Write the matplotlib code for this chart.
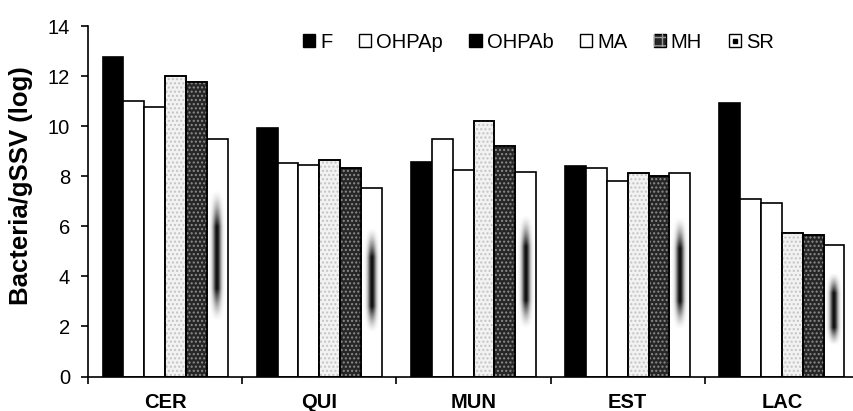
import numpy as np
import matplotlib
matplotlib.use("Agg")
import matplotlib.pyplot as plt
from matplotlib.patches import Patch
from matplotlib.lines import Line2D

# dati
categories = ['CER', 'QUI', 'MUN', 'EST', 'LAC']
series_names = ['F', 'OHPAp', 'OHPAb', 'MA', 'MH', 'SR']
F = [12.76, 9.94, 8.55, 8.42, 10.91]
OHPAp = [11.0, 8.54, 9.47, 8.34, 7.1]
OHPAb = [10.75, 8.45, 8.25, 7.81, 6.94]
MA = [12.0, 8.63, 10.19, 8.11, 5.75]
MH = [11.76, 8.33, 9.22, 8.0, 5.64]
SR = [9.47, 7.53, 8.17, 8.11, 5.26]
y_ticks = [0, 2, 4, 6, 8, 10, 12, 14]

plt.rcParams['font.family'] = ['Liberation Sans', 'DejaVu Sans']
plt.rcParams['hatch.linewidth'] = 1.0

fig = plt.figure(figsize=(8.54, 4.11), dpi=100)
ax = fig.add_axes([88 / 854, 34.5 / 411, 771 / 854, 350.5 / 411])

x = np.arange(len(categories))
w = 0.135

# stile delle barre: (colore, tratteggio, colore tratteggio)
styles = [
    ('black', None, None),
    ('white', None, None),
    ('white', None, None),
    ('#f2f2f2', '....', '#c4c4c4'),
    ('#262626', '....', '#8c8c8c'),
    ('white', None, None),
]
series = [F, OHPAp, OHPAb, MA, MH, SR]

for i, (vals, (fc, hatch, hc)) in enumerate(zip(series, styles)):
    pos = x + (i - 2.5) * w
    ax.bar(pos, vals, width=w, color=fc, edgecolor='black', linewidth=1.2, zorder=2)
    if hatch:
        ax.bar(pos, vals, width=w, color='none', edgecolor=hc, hatch=hatch,
               linewidth=0, zorder=2.5)
        ax.bar(pos, vals, width=w, color='none', edgecolor='black',
               linewidth=1.2, zorder=2.6)

# macchia scura sfumata dentro le barre SR
hx = np.linspace(-1, 1, 60)
hy = np.linspace(0, 1, 200)
prof_x = np.exp(-(hx / 0.45) ** 2)
ramp = np.clip(np.minimum(hy / 0.25, (1 - hy) / 0.28), 0, 1)
prof_y = ramp ** 1.5
alpha = np.outer(prof_y, prof_x) * 0.95
img = np.zeros((len(hy), len(hx), 4))
img[..., 3] = alpha
sr_pos = x + 2.5 * w
for px, h in zip(sr_pos, SR):
    ax.imshow(img, extent=[px - w * 0.42, px + w * 0.42, 0.23 * h, 0.79 * h],
              aspect='auto', origin='lower', zorder=3, interpolation='bilinear')

ax.set_xlim(-0.5, len(categories) - 0.5)
ax.set_ylim(0, 14)
ax.set_yticks(y_ticks)
ax.set_yticklabels([str(t) for t in y_ticks], fontsize=14.5)
ax.set_xticks(x)
ax.set_xticklabels(categories, fontsize=14.5, fontweight='bold')
ax.set_xticks(np.arange(len(categories) + 1) - 0.5, minor=True)
ax.tick_params(axis='x', which='major', length=0, pad=12)
ax.tick_params(axis='x', which='minor', length=5, width=1.2, direction='out')
ax.tick_params(axis='y', length=5, width=1.2, direction='out', pad=8)

for s in ['top', 'right']:
    ax.spines[s].set_visible(False)
for s in ['left', 'bottom']:
    ax.spines[s].set_linewidth(1.2)

fig.text(21 / 854, 1 - 186 / 411, 'Bacteria/gSSV (log)', rotation=90,
         ha='center', va='center', fontsize=18.5, fontweight='bold')

# legenda
handles = [
    Patch(facecolor='black', edgecolor='black'),
    Patch(facecolor='white', edgecolor='black'),
    Patch(facecolor='black', edgecolor='black'),
    Patch(facecolor='white', edgecolor='black'),
    (Patch(facecolor='#262626', edgecolor='black'),
     Patch(facecolor='none', edgecolor='#9a9a9a', hatch='++', linewidth=0)),
    (Patch(facecolor='white', edgecolor='black'),
     Line2D([], [], marker='s', markersize=3, color='black', linestyle='none')),
]
ax.legend(handles, series_names, ncol=6, frameon=False, fontsize=14.5,
          loc='center left', bbox_to_anchor=(211 / 771, 0.953),
          handlelength=0.6, handleheight=0.6, handletextpad=0.25,
          columnspacing=1.32, borderpad=0.2, borderaxespad=0.0)

fig.savefig('out.png', dpi=100)
